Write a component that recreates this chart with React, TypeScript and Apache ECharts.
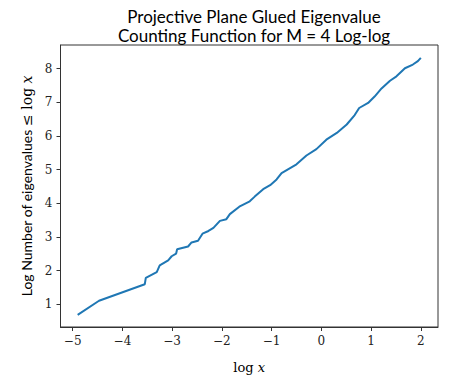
import React, { useEffect, useRef } from "react";
import * as echarts from "echarts";

const logX = [
  -4.9, -4.47, -3.55, -3.53, -3.31, -3.25, -3.08, -3.01, -2.92, -2.9, -2.68, -2.61, -2.48,
  -2.39, -2.27, -2.17, -2.04, -1.91, -1.84, -1.65, -1.44, -1.34, -1.17, -1.03, -0.9, -0.8,
  -0.5, -0.3, -0.1, 0.1, 0.31, 0.51, 0.67, 0.76, 0.94, 1.07, 1.21, 1.38, 1.51, 1.68, 1.84,
  1.94, 2.0,
];
const logCount = [
  0.69, 1.11, 1.6, 1.79, 1.96, 2.16, 2.31, 2.43, 2.51, 2.64, 2.72, 2.84, 2.89,
  3.1, 3.18, 3.27, 3.48, 3.53, 3.68, 3.9, 4.06, 4.2, 4.42, 4.54, 4.71, 4.9,
  5.16, 5.42, 5.61, 5.89, 6.09, 6.34, 6.62, 6.83, 6.98, 7.17, 7.41, 7.64, 7.77, 8.01, 8.12,
  8.22, 8.32,
];
const xTicks = [-5, -4, -3, -2, -1, 0, 1, 2];
const yTicks = [1, 2, 3, 4, 5, 6, 7, 8];
const titleLines = ["Projective Plane Glued Eigenvalue", "Counting Function for M = 4 Log-log"];

const fmt = (v: number) => (v < 0 ? "\u2212" + Math.abs(v) : String(v));

export default function App() {
  const ref = useRef<HTMLDivElement>(null);
  useEffect(() => {
    const chart = echarts.init(ref.current!, null, { renderer: "svg" });
    const serif = "'DejaVu Serif', 'Liberation Serif', serif";
    const sans = "Lato, 'Open Sans', sans-serif";
    chart.setOption({
      animation: false,
      backgroundColor: "#ffffff",
      title: {
        text: titleLines.join("\n"),
        left: 249,
        textAlign: "center",
        top: 2,
        textStyle: { fontFamily: sans, fontSize: 17, fontWeight: "normal", color: "#000", lineHeight: 19 },
      },
      grid: {
        left: 60.5,
        right: 33,
        top: 45,
        bottom: 42.3,
        show: true,
        borderColor: "#333",
        borderWidth: 1,
        backgroundColor: "transparent",
      },
      xAxis: {
        type: "value",
        min: -5.245,
        max: 2.345,
        interval: 1,
        splitLine: { show: false },
        axisLine: { show: true, onZero: false, lineStyle: { color: "#333", width: 1 } },
        axisTick: { show: true, inside: false, length: 4, lineStyle: { color: "#333" }, customValues: xTicks },
        axisLabel: {
          customValues: xTicks,
          formatter: (v: number) => fmt(v),
          fontFamily: serif,
          fontSize: 12,
          color: "#222",
          margin: 8,
        },
        name: "{a|log }{b|x}",
        nameLocation: "middle",
        nameGap: 34,
        nameTextStyle: {
          rich: {
            a: { fontFamily: serif, fontSize: 13, color: "#000" },
            b: { fontFamily: serif, fontSize: 13, fontStyle: "italic", color: "#000" },
          },
        },
      },
      yAxis: {
        type: "value",
        min: 0.33,
        max: 8.7,
        splitLine: { show: false },
        axisLine: { show: true, onZero: false, lineStyle: { color: "#333", width: 1 } },
        axisTick: { show: true, inside: false, length: 4, lineStyle: { color: "#333" }, customValues: yTicks },
        axisLabel: {
          customValues: yTicks,
          formatter: (v: number) => fmt(v),
          fontFamily: serif,
          fontSize: 12,
          color: "#222",
          margin: 8,
        },
        name: "{a|Log Number of eigenvalues }{c|\u2264 log }{b|x}",
        nameLocation: "middle",
        nameGap: 27,
        nameTextStyle: {
          rich: {
            a: { fontFamily: sans, fontSize: 14, color: "#000" },
            c: { fontFamily: serif, fontSize: 14, color: "#000" },
            b: { fontFamily: serif, fontSize: 14, fontStyle: "italic", color: "#000" },
          },
        },
      },
      series: [
        {
          type: "line",
          data: logX.map((x, i) => [x, logCount[i]]),
          showSymbol: false,
          lineStyle: { color: "#1f77b4", width: 2 },
        },
      ],
    });
    return () => chart.dispose();
  }, []);
  return <div ref={ref} style={{ width: 471, height: 379, position: "absolute", left: 0, top: 0 }} />;
}
